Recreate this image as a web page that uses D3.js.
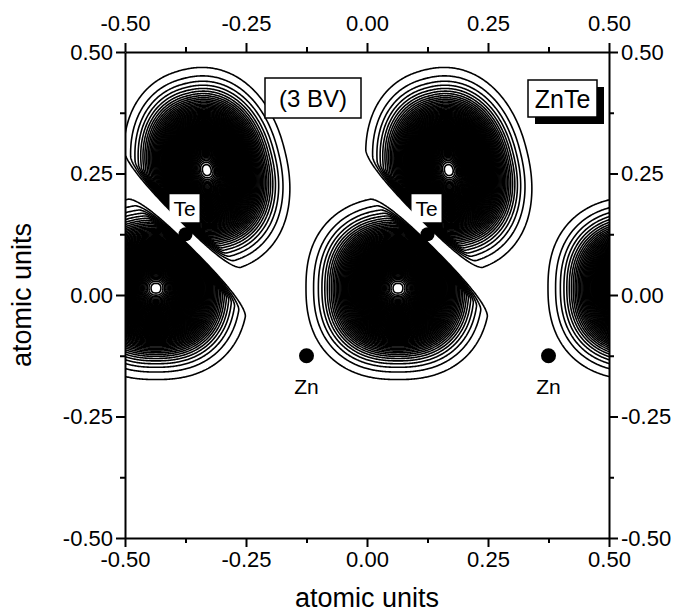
<!DOCTYPE html>
<html><head><meta charset="utf-8">
<script src="https://cdn.jsdelivr.net/npm/d3@7"></script>
<style>
body{margin:0;background:#fff}
svg{display:block}
text{font-family:"Liberation Sans",Arial,sans-serif;fill:#000}
</style>
</head><body>
<svg id="chart" width="681" height="614"></svg>
<script>
// ---------------- data ----------------
const xTickValues = [-0.5, -0.25, 0, 0.25, 0.5];
const yTickValues = [-0.5, -0.25, 0, 0.25, 0.5];
const minorTickValues = [-0.375, -0.125, 0.125, 0.375];

// charge-density lobes of one cell, repeated by lattice shifts
const lobeNames    = ["upper", "lower"];
const lobeCenterX  = [0.169, 0.064];
const lobeCenterY  = [0.257, 0.014];
const lobeAngle    = [14, 0];        // degrees
const lobeHalfW    = [0.166, 0.190]; // extent of outermost contour
const lobeHalfH    = [0.212, 0.188];
const lobeExponent = [2.2, 2.35];    // squareness of contours
const lobeSide     = [1, -1];        // side of the nodal line through Te
const lobeShifts   = [[-0.5, 0], [-0.5, 0, 0.5]]; // periodic copies shown

const teX = [-0.375, 0.125];
const teY = [0.125, 0.125];
const znX = [-0.125, 0.375];
const znY = [-0.125, -0.125];

const levelCount = 80;               // equally spaced contour levels

// ---------------- layout ----------------
const svg = d3.select("#chart");
const L = 125, R = 609, T = 52, B = 538;
const xS = d3.scaleLinear().domain([-0.5, 0.5]).range([L, R]);
const yS = d3.scaleLinear().domain([-0.5, 0.5]).range([B, T]);

svg.append("clipPath").attr("id", "clip")
  .append("rect").attr("x", L).attr("y", T).attr("width", R - L).attr("height", B - T);

// ---------------- field ----------------
const LN = Math.log(levelCount);
const GAP = 0.008, RAMP = 0.025;
const teRefX = teX[1], teRefY = teY[1];
function field(x, y) {
  let s = 0;
  for (let k = 0; k < lobeNames.length; k++) {
    for (const sh of lobeShifts[k]) {
      const cx = lobeCenterX[k] + sh, cy = lobeCenterY[k];
      const dx = x - cx, dy = y - cy;
      if (Math.abs(dx) > 0.4 || Math.abs(dy) > 0.4) continue;
      const a = lobeAngle[k] * Math.PI / 180;
      const u = dx * Math.cos(a) + dy * Math.sin(a);
      const v = -dx * Math.sin(a) + dy * Math.cos(a);
      const p = lobeExponent[k];
      const rho2 = Math.pow(Math.pow(Math.abs(u) / lobeHalfW[k], p) + Math.pow(Math.abs(v) / lobeHalfH[k], p), 2 / p);
      const g = Math.exp(-LN * rho2);
      const n = lobeSide[k] * ((x - (teRefX + sh)) + (y - teRefY)) / Math.SQRT2;
      let t = (n - GAP) / RAMP;
      t = Math.max(0, Math.min(1, t));
      s += g * t * t * (3 - 2 * t);
    }
  }
  return s;
}

const X0 = -0.52, Y0 = 0.52, STEP = 0.002;
const nx = Math.round(1.04 / STEP) + 1, ny = nx;
const values = new Float64Array(nx * ny);
for (let j = 0; j < ny; j++) {
  const y = Y0 - j * STEP;
  for (let i = 0; i < nx; i++) values[j * nx + i] = field(X0 + i * STEP, y);
}
const levels = d3.range(1, levelCount).map(k => k / levelCount);
const contours = d3.contours().size([nx, ny]).thresholds(levels)(values);
const proj = d3.geoTransform({
  point(px, py) { this.stream.point(xS(X0 + (px - 0.5) * STEP), yS(Y0 - (py - 0.5) * STEP)); }
});
const path = d3.geoPath(proj);

svg.append("g").attr("clip-path", "url(#clip)")
  .selectAll("path").data(contours).join("path")
  .attr("d", path).attr("fill", "none").attr("stroke", "#000").attr("stroke-width", 1.6)
  .attr("stroke-linejoin", "round");

// ---------------- atoms ----------------
const atoms = svg.append("g");
teX.forEach((x, i) => {
  atoms.append("circle").attr("cx", xS(x)).attr("cy", yS(teY[i])).attr("r", 7).attr("fill", "#000");
  atoms.append("rect").attr("x", xS(x) - 16).attr("y", yS(teY[i]) - 40).attr("width", 30).attr("height", 28).attr("fill", "#fff");
  atoms.append("text").attr("x", xS(x) - 1).attr("y", yS(teY[i]) - 18).attr("text-anchor", "middle")
    .attr("font-size", 21).text("Te");
});
znX.forEach((x, i) => {
  atoms.append("circle").attr("cx", xS(x)).attr("cy", yS(znY[i])).attr("r", 7.5).attr("fill", "#000");
  atoms.append("text").attr("x", xS(x)).attr("y", yS(znY[i]) + 38).attr("text-anchor", "middle")
    .attr("font-size", 21).text("Zn");
});

// ---------------- axes ----------------
const fmt = d => d.toFixed(2);
function styleAxis(g) {
  g.selectAll(".domain").attr("stroke-width", 2);
  g.selectAll(".tick line").attr("stroke-width", 2);
  g.selectAll("text").attr("font-size", 22).attr("font-family", "Liberation Sans, Arial, sans-serif");
}
function minor(g) { g.selectAll("text").remove(); g.select(".domain").remove(); g.selectAll(".tick line").attr("stroke-width", 2); }

svg.append("g").attr("transform", `translate(0,${B})`)
  .call(d3.axisBottom(xS).tickValues(xTickValues).tickFormat(fmt).tickSize(9).tickSizeOuter(0).tickPadding(4)).call(styleAxis);
svg.append("g").attr("transform", `translate(0,${T})`)
  .call(d3.axisTop(xS).tickValues(xTickValues).tickFormat(fmt).tickSize(9).tickSizeOuter(0).tickPadding(12)).call(styleAxis);
svg.append("g").attr("transform", `translate(${L},0)`)
  .call(d3.axisLeft(yS).tickValues(yTickValues).tickFormat(fmt).tickSize(9).tickSizeOuter(0).tickPadding(3)).call(styleAxis);
svg.append("g").attr("transform", `translate(${R},0)`)
  .call(d3.axisRight(yS).tickValues(yTickValues).tickFormat(fmt).tickSize(9).tickSizeOuter(0).tickPadding(3)).call(styleAxis);

svg.append("g").attr("transform", `translate(0,${B})`).call(d3.axisBottom(xS).tickValues(minorTickValues).tickSize(5)).call(minor);
svg.append("g").attr("transform", `translate(0,${T})`).call(d3.axisTop(xS).tickValues(minorTickValues).tickSize(5)).call(minor);
svg.append("g").attr("transform", `translate(${L},0)`).call(d3.axisLeft(yS).tickValues(minorTickValues).tickSize(5)).call(minor);
svg.append("g").attr("transform", `translate(${R},0)`).call(d3.axisRight(yS).tickValues(minorTickValues).tickSize(5)).call(minor);

svg.append("text").attr("x", (L + R) / 2).attr("y", 607).attr("text-anchor", "middle").attr("font-size", 27).text("atomic units");
svg.append("text").attr("transform", `translate(31,${(T + B) / 2}) rotate(-90)`).attr("text-anchor", "middle")
  .attr("font-size", 27).text("atomic units");

// ---------------- annotation boxes ----------------
svg.append("rect").attr("x", 265).attr("y", 78).attr("width", 96).attr("height", 40)
  .attr("fill", "#fff").attr("stroke", "#000").attr("stroke-width", 1.5);
svg.append("text").attr("x", 313).attr("y", 106.5).attr("text-anchor", "middle").attr("font-size", 24).text("(3 BV)");

svg.append("rect").attr("x", 535).attr("y", 87).attr("width", 69).attr("height", 37).attr("fill", "#000");
svg.append("rect").attr("x", 528).attr("y", 80).attr("width", 69).attr("height", 37)
  .attr("fill", "#fff").attr("stroke", "#000").attr("stroke-width", 1.5);
svg.append("text").attr("x", 562.5).attr("y", 107.5).attr("text-anchor", "middle").attr("font-size", 25).text("ZnTe");
</script>
</body></html>
